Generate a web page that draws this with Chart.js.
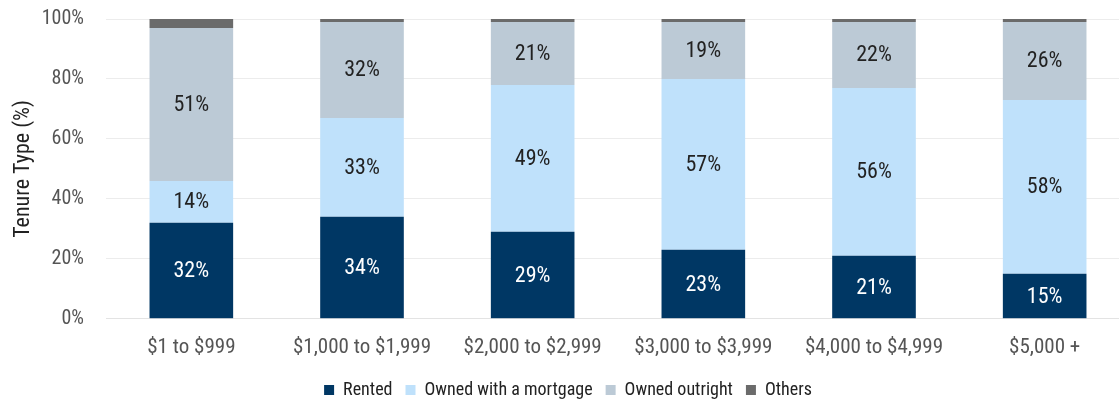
<!DOCTYPE html>
<html>
<head>
<meta charset="utf-8">
<script src="https://cdn.jsdelivr.net/npm/chart.js@4/dist/chart.umd.min.js"></script>
<style>
  html, body { margin: 0; padding: 0; background: #fff; overflow: hidden; }
  body { width: 1119px; height: 401px; position: relative; }
  #wrap { position: absolute; left: 0; top: -15px; width: 1130px; height: 424px; }
</style>
</head>
<body>
<div id="wrap"><canvas id="tenureChart"></canvas></div>
<script>
const categories = ["$1 to $999", "$1,000 to $1,999", "$2,000 to $2,999", "$3,000 to $3,999", "$4,000 to $4,999", "$5,000 +"];
const rented = [32, 34, 29, 23, 21, 15];
const mortgage = [14, 33, 49, 57, 56, 58];
const outright = [51, 32, 21, 19, 22, 26];
const others = [3, 1, 1, 1, 1, 1];
const yTicks = [0, 20, 40, 60, 80, 100];

const FONT = "'Roboto Condensed', 'Liberation Sans Narrow', 'Arial Narrow', Roboto, sans-serif";

// draws the % labels in the middle of each segment (not for "Others")
const segmentLabels = {
    id: "segmentLabels",
    afterDatasetsDraw(chart) {
        const ctx = chart.ctx;
        ctx.save();
        ctx.font = "22px " + FONT;
        ctx.textAlign = "center";
        ctx.textBaseline = "middle";
        chart.data.datasets.forEach((ds, i) => {
            if (ds.label === "Others") return;
            const meta = chart.getDatasetMeta(i);
            meta.data.forEach((bar, j) => {
                const v = ds.data[j];
                ctx.fillStyle = ds.label === "Rented" ? "#ffffff" : "#222222";
                ctx.fillText(v + "%", bar.x, (bar.y + bar.base) / 2 + 1);
            });
        });
        ctx.restore();
    },
};

new Chart(document.getElementById("tenureChart"), {
    type: "bar",
    data: {
        labels: categories,
        datasets: [
            { label: "Rented", data: rented, backgroundColor: "#003764" },
            { label: "Owned with a mortgage", data: mortgage, backgroundColor: "#bfe1fb" },
            { label: "Owned outright", data: outright, backgroundColor: "#bccad6" },
            { label: "Others", data: others, backgroundColor: "#6b6b6b" },
        ],
    },
    options: {
        responsive: true,
        maintainAspectRatio: false,
        animation: false,
        datasets: {
            bar: { categoryPercentage: 1, barPercentage: 0.49, borderWidth: 0 },
        },
        layout: { padding: { top: 7, right: 0, left: 6, bottom: 0 } },
        plugins: {
            legend: {
                position: "bottom",
                labels: {
                    boxWidth: 10,
                    boxHeight: 10,
                    padding: 13,
                    color: "#222",
                    font: { family: FONT, size: 18 },
                },
            },
            tooltip: { enabled: false },
        },
        scales: {
            x: {
                stacked: true,
                grid: { display: false },
                border: { color: "#e3e3e3" },
                ticks: { color: "#555", font: { family: FONT, size: 21 }, padding: 8 },
            },
            y: {
                stacked: true,
                min: 0,
                max: 100,
                afterBuildTicks(axis) {
                    axis.ticks = yTicks.map((v) => ({ value: v }));
                },
                afterFit(axis) {
                    axis.width = 100;
                },
                grid: { color: "#ececec", drawTicks: false },
                border: { display: false },
                ticks: {
                    color: "#555",
                    padding: 22,
                    font: { family: FONT, size: 20 },
                    callback: (v) => v + "%",
                },
                title: {
                    display: true,
                    text: "Tenure Type (%)",
                    color: "#222",
                    font: { family: FONT, size: 22 },
                    padding: { top: 4, bottom: 4 },
                },
            },
        },
    },
    plugins: [segmentLabels],
});
</script>
</body>
</html>
